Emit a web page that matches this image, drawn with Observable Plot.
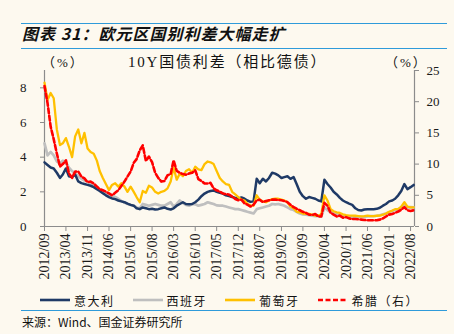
<!DOCTYPE html>
<html><head><meta charset="utf-8">
<script src="https://cdn.jsdelivr.net/npm/d3@7"></script>
<script src="https://cdn.jsdelivr.net/npm/@observablehq/plot@0.6"></script>
<style>
html,body{margin:0;padding:0;background:#FDF9EF;}
#root{position:relative;width:454px;height:334px;overflow:hidden;background:#FDF9EF;font-family:"Noto Sans CJK SC","Noto Sans",sans-serif;color:#111;}
.hr{position:absolute;left:21px;width:426px;height:0;border-top:1.6px solid #2F9BDA;}
#title{position:absolute;left:22px;top:23px;font-size:16px;line-height:20px;font-weight:bold;font-style:italic;letter-spacing:1px;white-space:nowrap;}
#ctitle{position:absolute;left:128px;top:53px;font-size:15px;line-height:19px;letter-spacing:1.8px;white-space:nowrap;font-family:"Liberation Serif","Noto Sans CJK SC",serif;z-index:2;}
.unit{position:absolute;top:53px;font-size:13px;line-height:19px;letter-spacing:2px;white-space:nowrap;font-family:"Liberation Serif","Noto Sans CJK SC",serif;z-index:2;}
#chart{position:absolute;left:0;top:50px;z-index:1;}
#legend{position:absolute;left:40px;top:291px;height:18px;display:flex;align-items:center;font-size:12px;letter-spacing:1.5px;white-space:nowrap;}
.item{display:flex;align-items:center;margin-right:18px;}
.item svg{margin-right:4px;}
#source{position:absolute;left:22px;top:314px;font-size:12px;line-height:16px;white-space:nowrap;}
</style></head>
<body>
<div id="root">
  <div class="hr" style="top:22.5px"></div>
  <div id="title">图表 31：欧元区国别利差大幅走扩</div>
  <div class="hr" style="top:47.5px"></div>
  <div class="unit" style="left:42px">（%）</div>
  <div id="ctitle">10Y国债利差（相比德债）</div>
  <div class="unit" style="left:385px">（%）</div>
  <div id="chart"></div>
  <div id="legend"></div>
  <div class="hr" style="top:310px"></div>
  <div id="source">来源：Wind、国金证券研究所</div>
</div>
<script>
// ---- data (monthly, starting 2012/09) ----
const startLabel = "2012/09";
const tickLabels = ["2012/09","2013/04","2013/11","2014/06","2015/01","2015/08","2016/03","2016/10","2017/05","2017/12","2018/07","2019/02","2019/09","2020/04","2020/11","2021/06","2022/01","2022/08"];
const leftTicks = [0, 2, 4, 6, 8];
const rightTicks = [0, 5, 10, 15, 20, 25];

const italy = [3.7,3.55,3.4,3.35,3.1,2.8,3.0,3.35,2.9,2.85,
3.0,2.6,2.5,2.45,2.4,2.35,2.27,2.15,2.05,1.92,
1.8,1.7,1.62,1.58,1.5,1.45,1.4,1.32,1.25,1.2,
1.05,1.0,1.1,1.05,1.0,1.02,0.98,1.0,1.05,1.1,
1.02,0.98,1.05,1.2,1.3,1.4,1.3,1.28,1.3,1.4,
1.55,1.75,1.9,2.0,2.05,2.08,2.0,1.95,1.9,1.8,
1.75,1.7,1.65,1.6,1.68,1.6,1.5,1.42,1.45,2.75,
2.5,2.75,2.6,2.8,3.1,3.05,2.95,2.8,2.85,2.9,
2.75,2.85,2.45,2.0,1.75,1.6,1.7,1.65,1.6,1.5,
1.45,2.7,2.45,2.25,2.0,1.85,1.65,1.5,1.4,1.32,
1.25,1.05,0.95,0.92,0.98,1.0,1.0,1.0,1.02,1.08,
1.2,1.3,1.45,1.5,1.6,1.8,2.05,2.45,2.15,2.27,
2.4];

const spain = [4.8,4.1,4.3,4.1,3.75,3.65,3.8,3.7,3.4,3.2,
3.05,2.9,2.75,2.65,2.6,2.45,2.35,2.25,2.1,2.0,
1.9,1.82,1.78,1.7,1.6,1.48,1.38,1.3,1.25,1.2,
1.1,1.05,1.3,1.25,1.2,1.25,1.3,1.25,1.2,1.2,
1.3,1.4,1.15,1.3,1.5,1.35,1.25,1.2,1.3,1.28,
1.2,1.25,1.3,1.4,1.35,1.3,1.22,1.2,1.2,1.15,
1.1,1.05,1.0,1.0,0.95,0.9,0.85,0.8,0.75,1.0,
1.05,1.1,1.15,1.2,1.3,1.28,1.3,1.25,1.2,1.1,
1.0,0.95,0.85,0.75,0.7,0.68,0.65,0.62,0.6,0.6,
0.58,1.1,0.95,0.83,0.75,0.7,0.63,0.6,0.58,0.55,
0.54,0.55,0.54,0.55,0.56,0.58,0.6,0.6,0.62,0.65,
0.7,0.75,0.82,0.88,0.95,1.0,1.05,1.2,1.1,1.12,
1.1];

const portugal = [8.3,7.3,7.7,7.4,5.6,4.7,4.8,5.1,4.6,4.0,
5.2,5.6,4.8,5.4,4.5,4.3,4.2,3.8,3.2,2.8,
2.45,2.1,2.4,2.5,2.3,2.5,2.3,2.0,2.3,2.0,
1.7,1.4,2.05,1.95,2.35,2.25,2.0,1.9,2.0,2.05,
2.2,2.6,3.4,2.7,3.05,2.9,3.2,3.3,3.1,3.45,
3.3,3.25,3.6,3.75,3.7,3.6,3.2,2.8,2.6,2.45,
2.4,2.0,1.85,1.7,1.55,1.5,1.3,1.22,1.2,1.8,
1.55,1.45,1.4,1.5,1.58,1.6,1.6,1.55,1.5,1.4,
1.15,1.05,0.85,0.82,0.75,0.73,0.73,0.68,0.63,0.63,
0.7,1.8,1.5,1.0,0.88,0.82,0.78,0.7,0.65,0.63,
0.63,0.62,0.6,0.58,0.6,0.63,0.6,0.6,0.62,0.63,
0.68,0.75,0.85,0.92,1.0,1.0,1.15,1.4,1.15,1.1,
1.1];

const greece = [22.5,19.8,16.0,14.0,11.7,9.6,10.0,10.6,8.5,7.8,
8.8,8.8,8.0,7.7,7.1,7.2,6.9,6.4,6.0,5.8,
5.6,5.3,5.0,5.4,5.8,6.5,7.2,8.0,8.8,10.2,
10.8,12.2,13.0,10.5,11.2,10.3,8.6,7.8,7.2,7.3,
8.2,8.4,10.6,8.9,8.6,8.4,8.3,8.5,8.6,9.0,
7.6,7.3,6.9,6.9,7.0,6.1,5.8,5.6,5.3,5.2,
5.1,4.8,4.4,4.2,4.3,3.7,3.5,3.2,3.5,4.2,
4.3,3.9,4.1,4.2,4.3,4.3,4.25,4.2,4.1,3.9,
3.5,3.1,2.85,2.6,2.35,2.2,1.9,1.85,2.0,1.6,
1.6,3.8,3.3,2.2,1.9,1.6,1.75,1.4,1.5,1.3,
1.2,1.2,1.15,1.1,1.05,1.0,1.0,1.0,1.0,1.1,
1.3,1.6,1.9,2.0,2.2,2.4,2.7,3.1,2.6,2.5,
2.6];

const seriesNames = ["意大利", "西班牙", "葡萄牙", "希腊（右）"];
const seriesColors = ["#1F3A66", "#BFBFBF", "#FFC000", "#FF0000"];

// ---- build ----
const parse = d3.utcParse("%Y/%m");
const fmt = d3.utcFormat("%Y/%m");
const start = parse(startLabel);
const tickDates = tickLabels.map(parse);
const xStart = tickDates[0];
const xEnd = d3.utcDay.offset(tickDates[tickDates.length - 1], 39);
const leftMax = 9, rightMax = 25;
const k = leftMax / rightMax;

function rows(values, scale) {
  return values.map((v, i) => ({date: d3.utcMonth.offset(start, i), value: v * scale}));
}
const series = [
  {name: seriesNames[1], color: seriesColors[1], data: rows(spain, 1), width: 2.7},
  {name: seriesNames[0], color: seriesColors[0], data: rows(italy, 1), width: 2.5},
  {name: seriesNames[2], color: seriesColors[2], data: rows(portugal, 1), width: 2.3},
  {name: seriesNames[3], color: seriesColors[3], data: rows(greece, k), width: 2.6, dash: "5,2.5"}
];

const axisColor = "#8C8C8C";
const chart = Plot.plot({
  width: 454, height: 240,
  marginLeft: 44, marginRight: 40, marginTop: 20, marginBottom: 64,
  style: {background: "transparent", fontFamily: "'Liberation Serif','Times New Roman',serif", color: "#1a1a1a", overflow: "visible"},
  x: {type: "utc", domain: [xStart, xEnd]},
  y: {domain: [0, leftMax]},
  marks: [
    Plot.ruleY([0], {stroke: axisColor, strokeWidth: 1.2}),
    Plot.ruleX([xStart], {stroke: axisColor, strokeWidth: 1.2}),
    Plot.ruleX([xEnd], {stroke: axisColor, strokeWidth: 1.2}),
    Plot.axisY(leftTicks, {anchor: "left", tickSize: 4, tickPadding: 14, fontSize: 13, stroke: axisColor, label: null}),
    Plot.axisY(rightTicks.map(v => v * k), {anchor: "right", tickSize: 4, tickPadding: 8, fontSize: 13, stroke: axisColor, label: null, tickFormat: d => Math.round(d / k)}),
    Plot.axisX(tickDates, {anchor: "bottom", tickRotate: -90, tickSize: 5, tickPadding: 2, fontSize: 14, stroke: axisColor, label: null, tickFormat: fmt}),
    ...series.map(s => Plot.lineY(s.data, {x: "date", y: "value", stroke: s.color, strokeWidth: s.width, strokeDasharray: s.dash ?? null, strokeLinejoin: "round"}))
  ]
});
document.getElementById("chart").appendChild(chart);

// legend
const legend = document.getElementById("legend");
seriesNames.forEach((name, i) => {
  const item = document.createElement("div");
  item.className = "item";
  const dash = i === 3 ? 'stroke-dasharray="5,2.5"' : "";
  item.innerHTML = `<svg width="30" height="6"><line x1="0" y1="3" x2="30" y2="3" stroke="${seriesColors[i]}" stroke-width="2.6" ${dash}/></svg><span>${name}</span>`;
  legend.appendChild(item);
});
</script>
</body></html>
